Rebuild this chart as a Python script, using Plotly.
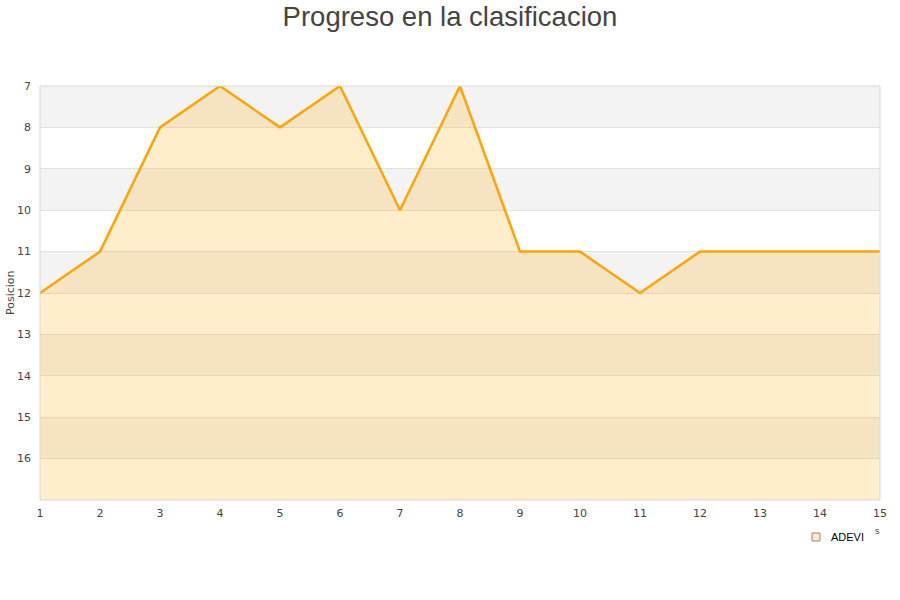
import plotly.graph_objects as go

jornadas = list(range(1, 16))
posiciones = [12, 11, 8, 7, 8, 7, 10, 7, 11, 11, 12, 11, 11, 11, 11]
equipo = "ADEVI"
y_ticks = list(range(7, 17))
y_min, y_max = 7, 17

W, H = 900, 600
L, R, T, B = 40, 20, 86, 100
PW, PH = W - L - R, H - T - B


def px(x):
    return (x - L) / PW


def py(y):
    return 1 - (y - T) / PH


fig = go.Figure()

shapes = []
for k in range(y_min, y_max):
    if (k - y_min) % 2 == 0:
        shapes.append(dict(type="rect", xref="paper", yref="y", x0=0, x1=1,
                           y0=k, y1=k + 1, fillcolor="#f3f3f3", line_width=0,
                           layer="below"))
shapes.append(dict(type="rect", xref="paper", yref="paper", x0=0, x1=1, y0=0, y1=1,
                   line=dict(color="#d9d9d9", width=1), fillcolor="rgba(0,0,0,0)",
                   layer="above"))
# legend marker
shapes.append(dict(type="rect", xref="paper", yref="paper",
                   x0=px(812), x1=px(820), y0=py(541), y1=py(533),
                   fillcolor="#ffe9c4", line=dict(color="#8a8a8a", width=1)))

fig.add_trace(go.Scatter(x=jornadas, y=[y_max] * len(jornadas), mode="lines",
                         line=dict(width=0), showlegend=False, hoverinfo="skip"))
fig.add_trace(go.Scatter(x=jornadas, y=posiciones, mode="lines", name=equipo,
                         fill="tonexty", fillcolor="rgba(255,165,0,0.2)",
                         line=dict(color="#ffa500", width=2.5), showlegend=False))

annotations = [
    dict(text=equipo, xref="paper", yref="paper", x=px(829), y=py(537),
         xanchor="left", yanchor="middle", showarrow=False,
         font=dict(family="Liberation Sans, Arial", size=11, color="#000000")),
    dict(text="s", xref="paper", yref="paper", x=px(873), y=py(531),
         xanchor="left", yanchor="middle", showarrow=False,
         font=dict(family="Liberation Sans, Arial", size=9, color="#444444")),
    dict(text="Posicion", xref="paper", yref="paper", x=px(10), y=0.5,
         xanchor="center", yanchor="middle", textangle=-90, showarrow=False,
         font=dict(family="DejaVu Sans", size=11, color="#444444")),
]

fig.update_layout(
    width=W, height=H,
    paper_bgcolor="white", plot_bgcolor="white",
    title=dict(text="Progreso en la clasificacion", x=0.5, xanchor="center",
               y=1 - 16 / H, yanchor="middle",
               font=dict(family="Liberation Sans, Arial", size=27.5, color="#444444")),
    margin=dict(l=L, r=R, t=T, b=B, autoexpand=False),
    font=dict(family="DejaVu Sans", size=11, color="#444444"),
    shapes=shapes,
    annotations=annotations,
    showlegend=False,
    xaxis=dict(range=[1, 15], tickvals=jornadas, showgrid=False, zeroline=False,
               showline=False, ticks="", automargin=False, ticklabelstandoff=5,
               tickfont=dict(size=11, color="#444444")),
    yaxis=dict(range=[y_max, y_min], tickvals=y_ticks, showgrid=True,
               gridcolor="#e2e2e2", gridwidth=1, zeroline=False, showline=False,
               ticks="", ticklabelstandoff=8, automargin=False,
               tickfont=dict(size=11, color="#444444")),
)

fig.write_html("out.html", config={"displayModeBar": False},
               post_script="document.body.style.margin='0';")
